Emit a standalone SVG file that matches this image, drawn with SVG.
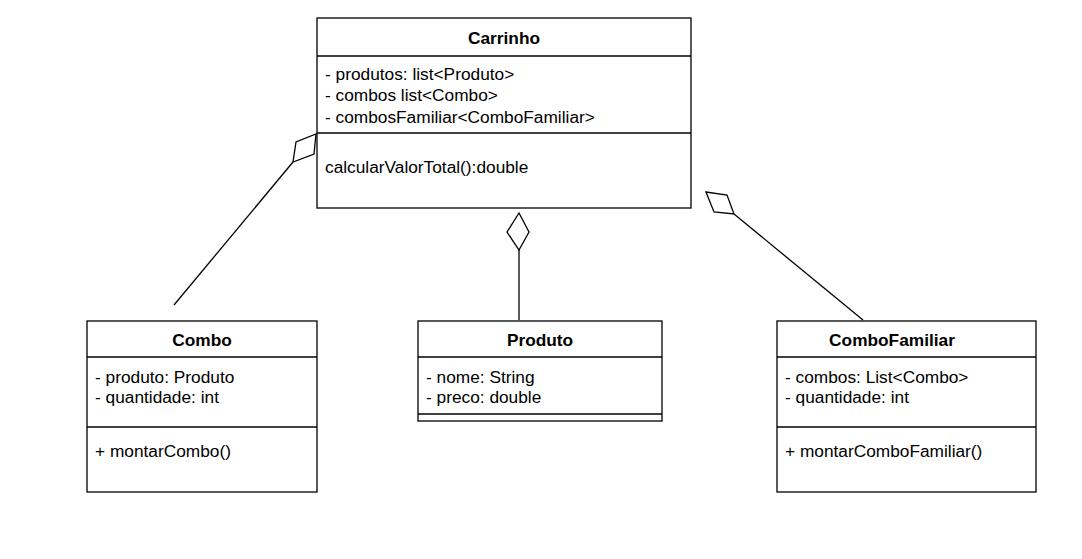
<svg xmlns="http://www.w3.org/2000/svg" width="1082" height="559" viewBox="0 0 1082 559">
<style>
.box{fill:#fff;stroke:#000;stroke-width:1.3}
.ln{stroke:#000;stroke-width:1.3;fill:none}
.dia{fill:#fff;stroke:#000;stroke-width:1.3;stroke-linejoin:miter}
text{font-family:"Liberation Sans",Arial,sans-serif;font-size:17.3px;fill:#000}
.t{font-weight:bold;text-anchor:middle}
</style>
<rect width="1082" height="559" fill="#fff"/>
<g id="connectors">
<line class="ln" x1="174" y1="305" x2="293" y2="162"/>
<polygon class="dia" points="316,134 314,154 293,162 296,142"/>
<line class="ln" x1="519" y1="250" x2="519" y2="320"/>
<polygon class="dia" points="519,213 529,232 519,250 507,232"/>
<line class="ln" x1="734" y1="214" x2="863" y2="320"/>
<polygon class="dia" points="706,192 727,195 734,214 714,212"/>
</g>
<g id="Carrinho">
<rect class="box" x="317" y="18" width="374" height="190"/>
<line class="ln" x1="317" y1="56" x2="691" y2="56"/>
<line class="ln" x1="317" y1="133" x2="691" y2="133"/>
<text class="t" x="504" y="44">Carrinho</text>
<text x="325" y="80">- produtos: list&lt;Produto&gt;</text>
<text x="325" y="101">- combos list&lt;Combo&gt;</text>
<text x="325" y="123">- combosFamiliar&lt;ComboFamiliar&gt;</text>
<text x="325" y="173">calcularValorTotal():double</text>
</g>
<g id="Combo">
<rect class="box" x="87" y="321" width="230" height="171"/>
<line class="ln" x1="87" y1="357" x2="317" y2="357"/>
<line class="ln" x1="87" y1="427" x2="317" y2="427"/>
<text class="t" x="202" y="346">Combo</text>
<text x="95" y="383">- produto: Produto</text>
<text x="95" y="403">- quantidade: int</text>
<text x="95" y="457">+ montarCombo()</text>
</g>
<g id="Produto">
<rect class="box" x="418" y="321" width="244" height="100"/>
<line class="ln" x1="418" y1="357" x2="662" y2="357"/>
<line class="ln" x1="418" y1="414" x2="662" y2="414"/>
<text class="t" x="540" y="346">Produto</text>
<text x="426" y="383">- nome: String</text>
<text x="426" y="403">- preco: double</text>
</g>
<g id="ComboFamiliar">
<rect class="box" x="777" y="321" width="259" height="171"/>
<line class="ln" x1="777" y1="357" x2="1036" y2="357"/>
<line class="ln" x1="777" y1="427" x2="1036" y2="427"/>
<text class="t" x="892" y="346">ComboFamiliar</text>
<text x="785" y="383">- combos: List&lt;Combo&gt;</text>
<text x="785" y="403">- quantidade: int</text>
<text x="785" y="457">+ montarComboFamiliar()</text>
</g>
</svg>
